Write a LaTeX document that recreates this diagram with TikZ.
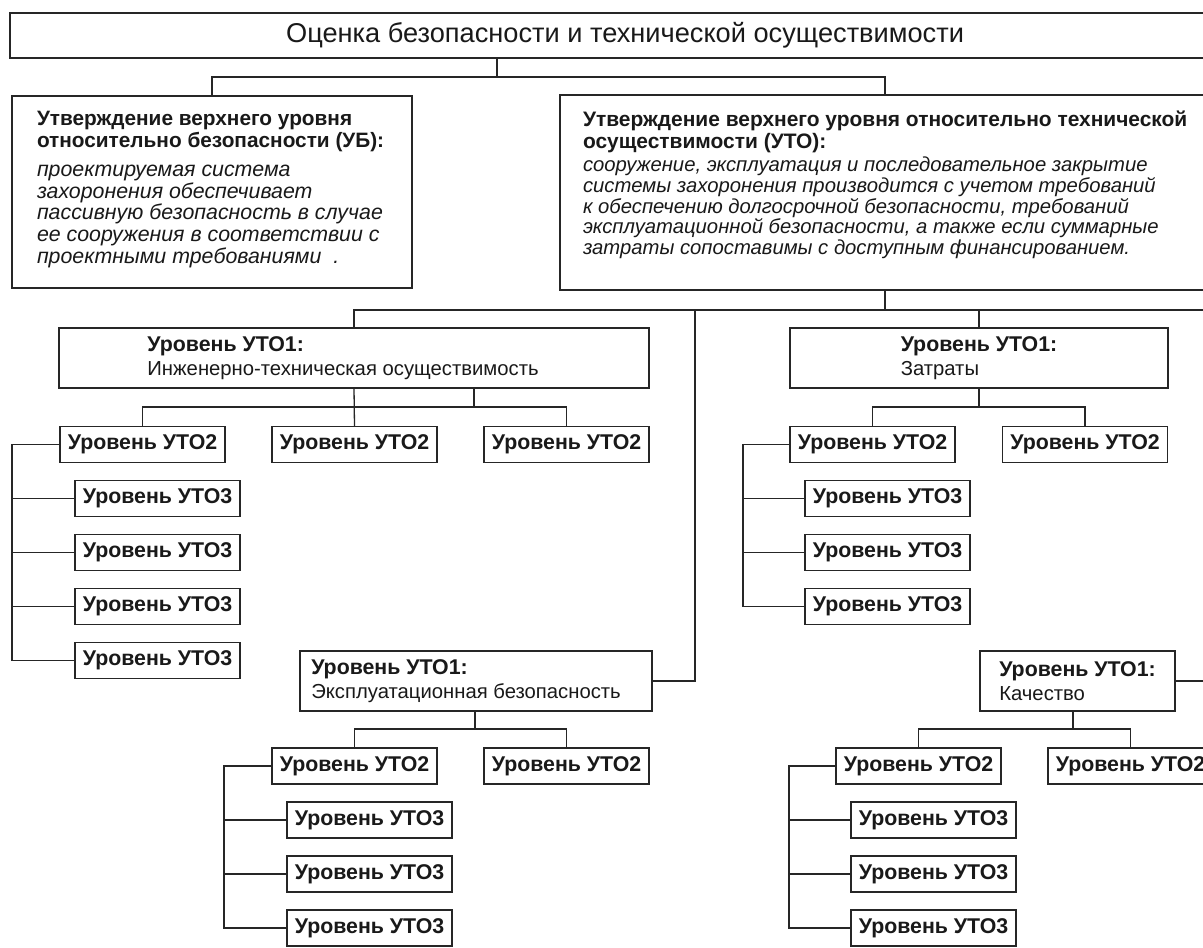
\documentclass[tikz,border=0pt]{standalone}
\usepackage{fontspec}
\setmainfont{Liberation Sans}
\newdimen\PX \PX=0.75pt
\tikzset{
  frame/.style={draw=black!85, line width=1.3\PX, inner sep=0pt, outer sep=0pt, text=black!90},
  link/.style={draw=black!85, line width=1.3\PX},
  lvtwo/.style={frame, minimum width=165\PX, minimum height=36\PX,
    font=\bfseries\fontsize{16}{18}\selectfont},
  lvone/.style={frame, align=left, anchor=north west, minimum height=60\PX,
    font=\fontsize{15.2}{18}\selectfont},
  claim/.style={frame, anchor=north west},
}
\newcommand\lvhd{{\bfseries\fontsize{16}{18}\selectfont Уровень УТО1:}}
\begin{document}
\begin{tikzpicture}[x=\PX, y=-\PX]
\useasboundingbox (0,0) rectangle (1203,947);
\fill[white] (0,0) rectangle (1203,947);
\clip (0,0) rectangle (1203,947);

% root
\node[frame, anchor=north west, minimum width=1230\PX, minimum height=45\PX,
  font=\fontsize{20.4}{22}\selectfont] (root) at (10,13)
  {Оценка безопасности и технической осуществимости};

% top-level claims: bold heading paragraph, then italic statement
\node[claim, minimum width=400\PX, minimum height=192\PX] (ub) at (12,96)
  {\parbox{350\PX}{\raggedright
   \bfseries\fontsize{15.6}{16.5}\selectfont
   \mbox{Утверждение верхнего уровня}\\
   \mbox{относительно безопасности (УБ):}\par
   \vspace{7\PX}
   \mdseries\itshape\fontsize{16}{16.3}\selectfont
   проектируемая система\\
   захоронения обеспечивает\\
   пассивную безопасность в случае\\
   ее сооружения в соответствии с\\
   проектными требованиями\hspace{12\PX}.\par
   \vspace{5\PX}}};

\node[claim, minimum width=650\PX, minimum height=195\PX] (uto) at (560,95)
  {\parbox{604\PX}{\raggedright
   \bfseries\fontsize{15.7}{16.5}\selectfont
   \mbox{Утверждение верхнего уровня относительно технической}\\
   осуществимости (УТО):\par
   \vspace{2.4\PX}
   \mdseries\itshape\fontsize{15.2}{15.45}\selectfont
   сооружение, эксплуатация и последовательное закрытие\\
   системы захоронения производится с учетом требований\\
   к обеспечению долгосрочной безопасности, требований\\
   эксплуатационной безопасности, а также если суммарные\\
   затраты сопоставимы с доступным финансированием.\par
   \vspace{15\PX}}};

\coordinate (j0) at (497,77);
\draw[link] (root.south -| j0) -- (j0);
\draw[link] (ub.north) |- (j0) -| (uto.north);

% first-level UTO branches
\node[lvone, minimum width=590\PX] (inzh) at (59,328)
  {\lvhd\\ Инженерно-техническая осуществимость\hspace*{22\PX}};
\node[lvone, minimum width=378\PX] (zatr) at (790,328)
  {\lvhd\\ Затраты};
\node[lvone, minimum width=352\PX] (expl) at (300,651)
  {\lvhd\\ Эксплуатационная безопасность\hspace*{20\PX}};
\node[lvone, minimum width=195\PX] (kach) at (980,651)
  {\lvhd\\ Качество};

\coordinate (j1) at (885,310);
\coordinate (j2) at (695,310);
\coordinate (edge) at (1240,310);
\draw[link] (uto.south) -- (j1);
\draw[link] (inzh.north) |- (edge);
\draw[link] (zatr.north) -- (zatr.north |- j1);
\draw[link] (expl.east) -| (j2);
\draw[link] (kach.east) -| (edge);

% engineering feasibility subtree
\node[lvtwo] (a1) at (142.5,444.5) {Уровень УТО2};
\node[lvtwo] (a2) at (354.5,444.5) {Уровень УТО2};
\node[lvtwo] (a3) at (566.5,444.5) {Уровень УТО2};
\foreach \i/\y in {1/498.5,2/552.5,3/606.5,4/660.5}
  \node[lvtwo] (a1s\i) at (157.5,\y) {Уровень УТО3};
\coordinate (ha) at (354,407);
\draw[link] (inzh.south) -- (a2.north);
\draw[link] ([xshift=120\PX]inzh.south) -- ([xshift=120\PX]inzh.south |- ha);
\draw[link] (a1.north) |- (ha) -| (a3.north);
\coordinate (ka) at (12,444.5);
\draw[link] (a1.west) -- (ka) |- (a1s4.west);
\foreach \i in {1,2,3} \draw[link] (a1s\i.west) -- (a1s\i.west -| ka);

% costs subtree
\node[lvtwo] (b1) at (872.5,444.5) {Уровень УТО2};
\node[lvtwo] (b2) at (1085,444.5) {Уровень УТО2};
\foreach \i/\y in {1/498.5,2/552.5,3/606.5}
  \node[lvtwo] (b1s\i) at (887.5,\y) {Уровень УТО3};
\coordinate (hb) at (979,407);
\draw[link] (zatr.south) -- (hb);
\draw[link] (b1.north) |- (hb) -| (b2.north);
\coordinate (kb) at (743,444.5);
\draw[link] (b1.west) -- (kb) |- (b1s3.west);
\foreach \i in {1,2} \draw[link] (b1s\i.west) -- (b1s\i.west -| kb);

% operational safety subtree
\node[lvtwo] (c1) at (354.5,766) {Уровень УТО2};
\node[lvtwo] (c2) at (566.5,766) {Уровень УТО2};
\foreach \i/\y in {1/820,2/874,3/928}
  \node[lvtwo] (c1s\i) at (369.5,\y) {Уровень УТО3};
\coordinate (hc) at (475,729);
\draw[link] (expl.south -| hc) -- (hc);
\draw[link] (c1.north) |- (hc) -| (c2.north);
\coordinate (kc) at (224,766);
\draw[link] (c1.west) -- (kc) |- (c1s3.west);
\foreach \i in {1,2} \draw[link] (c1s\i.west) -- (c1s\i.west -| kc);

% quality subtree
\node[lvtwo] (d1) at (918.5,766) {Уровень УТО2};
\node[lvtwo] (d2) at (1130.5,766) {Уровень УТО2};
\foreach \i/\y in {1/820,2/874,3/928}
  \node[lvtwo] (d1s\i) at (933.5,\y) {Уровень УТО3};
\coordinate (hd) at (1073,729);
\draw[link] (kach.south -| hd) -- (hd);
\draw[link] (d1.north) |- (hd) -| (d2.north);
\coordinate (kd) at (789,766);
\draw[link] (d1.west) -- (kd) |- (d1s3.west);
\foreach \i in {1,2} \draw[link] (d1s\i.west) -- (d1s\i.west -| kd);
\end{tikzpicture}
\end{document}
